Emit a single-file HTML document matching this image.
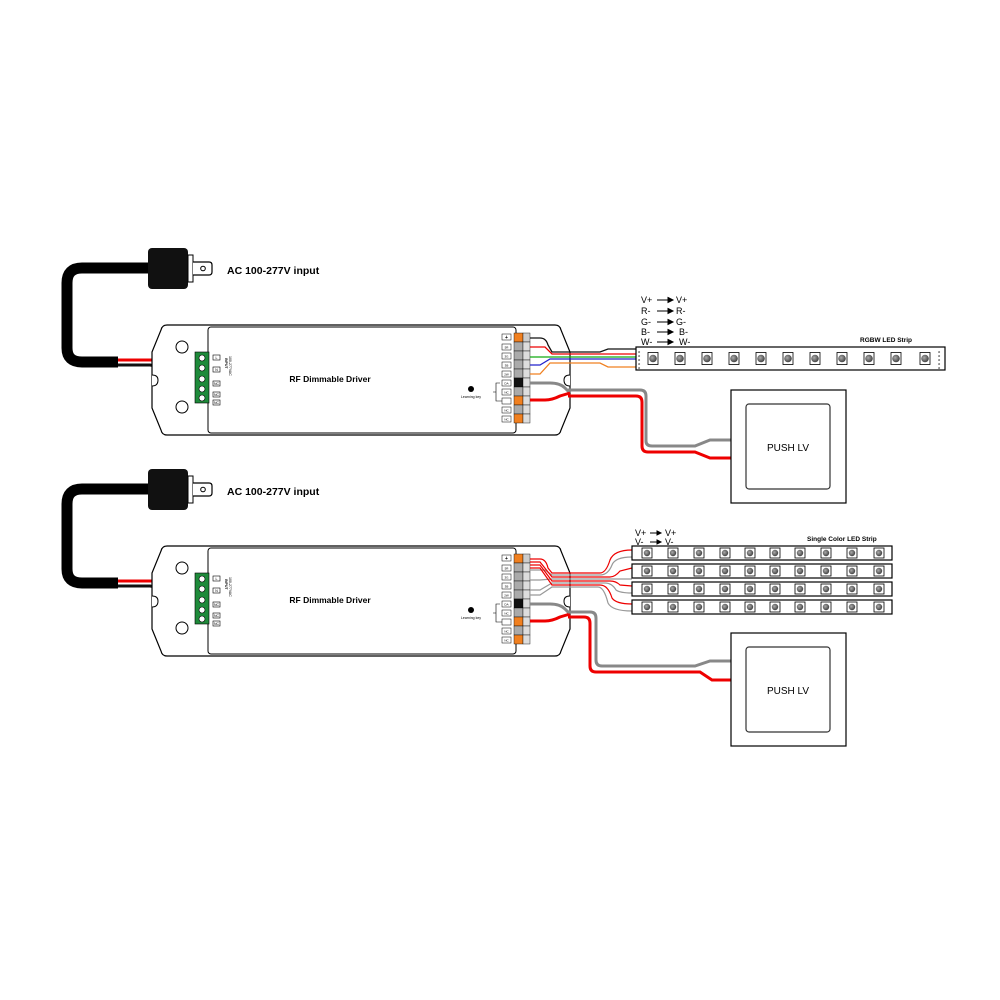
<!DOCTYPE html>
<html><head><meta charset="utf-8"><style>
html,body{margin:0;padding:0;background:#fff}
svg{display:block}
text{font-family:"Liberation Sans",Arial,sans-serif}
</style></head><body>
<svg width="1000" height="1000" viewBox="0 0 1000 1000" xmlns="http://www.w3.org/2000/svg">
<defs>
<g id="drv">
  <path d="M150,268 H82 Q67,268 67,283 V348 Q67,362 82,362 H118" fill="none" stroke="#000" stroke-width="11"/>
  <path d="M118,360 H150 Q170,360 178,357 L196,357" fill="none" stroke="#e00" stroke-width="3"/>
  <path d="M118,365 H150 Q170,368 180,369 L196,369" fill="none" stroke="#111" stroke-width="3"/>
  <rect x="148" y="248" width="40" height="41" rx="4" fill="#111"/>
  <rect x="188" y="255" width="5" height="27" fill="#fff" stroke="#000" stroke-width="1"/>
  <path d="M193,262 H209 Q212,262 212,265 V272 Q212,275 209,275 H193" fill="#fff" stroke="#000" stroke-width="1.2"/>
  <circle cx="203" cy="268.5" r="2.3" fill="none" stroke="#000" stroke-width="1"/>
  <text x="227" y="274" font-size="10.5" font-weight="bold">AC 100-277V input</text>
  <path d="M167,325 H555 Q560,325 561,330 L570,352 V408 L561,430 Q560,435 555,435 H167 Q162,435 161,430 L152,408 V352 L161,330 Q162,325 167,325 Z" fill="#fff" stroke="#000" stroke-width="1.2"/>
  <path d="M152,375 Q158,375 158,380 Q158,386 152,386" fill="#fff" stroke="#000"/>
  <path d="M570,375 Q564,375 564,380 Q564,386 570,386" fill="#fff" stroke="#000"/>
  <circle cx="182" cy="347" r="6" fill="#fff" stroke="#000"/>
  <circle cx="182" cy="407" r="6" fill="#fff" stroke="#000"/>
  <rect x="208" y="327" width="308" height="106" rx="3" fill="#fff" stroke="#000" stroke-width="1"/>
  <text x="330" y="382" font-size="8.5" font-weight="bold" text-anchor="middle">RF Dimmable Driver</text>
  <rect x="195" y="352" width="14" height="51" fill="#1e8a3a" stroke="#000" stroke-width="0.6"/>
  <g fill="#fff" stroke="#000" stroke-width="0.6">
    <circle cx="202" cy="358" r="3"/><circle cx="202" cy="368" r="3"/><circle cx="202" cy="379" r="3"/><circle cx="202" cy="389" r="3"/><circle cx="202" cy="398" r="3"/>
    <rect x="213" y="355" width="7" height="5"/><rect x="213" y="367" width="7" height="5"/><rect x="213" y="381" width="7" height="5"/><rect x="213" y="392" width="7" height="5"/><rect x="213" y="400" width="7" height="5"/>
  </g>
  <g font-size="3.5" text-anchor="middle"><text x="216.5" y="359">L</text><text x="216.5" y="371">N</text><text x="216.5" y="385">NC</text><text x="216.5" y="396">NC</text><text x="216.5" y="404">NC</text></g>
  <text transform="translate(225,358) rotate(90)" font-size="3.5" font-weight="bold">INPUT</text>
  <text transform="translate(229,356) rotate(90)" font-size="3.5">100-277VAC</text>
  <g stroke="#000" stroke-width="0.4">
    <rect x="514" y="333" width="9" height="9" fill="#f08020"/><rect x="523" y="333" width="7" height="9" fill="#ccc"/>
    <rect x="514" y="342" width="9" height="9" fill="#aaa"/><rect x="523" y="342" width="7" height="9" fill="#ddd"/>
    <rect x="514" y="351" width="9" height="9" fill="#aaa"/><rect x="523" y="351" width="7" height="9" fill="#ddd"/>
    <rect x="514" y="360" width="9" height="9" fill="#aaa"/><rect x="523" y="360" width="7" height="9" fill="#ddd"/>
    <rect x="514" y="369" width="9" height="9" fill="#aaa"/><rect x="523" y="369" width="7" height="9" fill="#ddd"/>
    <rect x="514" y="378" width="9" height="9" fill="#111"/><rect x="523" y="378" width="7" height="9" fill="#ddd"/>
    <rect x="514" y="387" width="9" height="9" fill="#aaa"/><rect x="523" y="387" width="7" height="9" fill="#ddd"/>
    <rect x="514" y="396" width="9" height="9" fill="#f08020"/><rect x="523" y="396" width="7" height="9" fill="#ddd"/>
    <rect x="514" y="405" width="9" height="9" fill="#aaa"/><rect x="523" y="405" width="7" height="9" fill="#ddd"/>
    <rect x="514" y="414" width="9" height="9" fill="#f08020"/><rect x="523" y="414" width="7" height="9" fill="#ddd"/>
  </g>
  <g fill="#fff" stroke="#000" stroke-width="0.5">
    <rect x="502" y="334" width="9" height="6"/><rect x="502" y="344" width="9" height="6"/><rect x="502" y="353" width="9" height="6"/><rect x="502" y="362" width="9" height="6"/><rect x="502" y="371" width="9" height="6"/><rect x="502" y="380" width="9" height="6"/><rect x="502" y="389" width="9" height="6"/><rect x="502" y="398" width="9" height="6"/><rect x="502" y="407" width="9" height="6"/><rect x="502" y="416" width="9" height="6"/>
  </g>
  <g font-size="3" text-anchor="middle"><text x="506.5" y="339" font-size="5" font-weight="bold">+</text><text x="506.5" y="348.5">5R</text><text x="506.5" y="357.5">3G</text><text x="506.5" y="366.5">3B</text><text x="506.5" y="375.5">2W</text><text x="506.5" y="384.5">DA</text><text x="506.5" y="393.5">NC</text><text x="506.5" y="411.5">NC</text><text x="506.5" y="420.5">NC</text></g>
  <path d="M500,383 H496 V401 H502 M496,392 H493" fill="none" stroke="#000" stroke-width="0.6"/>
  <circle cx="471" cy="389" r="3" fill="#000"/>
  <text x="471" y="398" font-size="3.5" text-anchor="middle">Learning key</text>
  <path d="M530,383 H550 Q560,383 565,388 L570,393" fill="none" stroke="#888" stroke-width="3"/>
  <path d="M530,400 H545 Q552,400 560,396 L570,393" fill="none" stroke="#e00" stroke-width="3"/>
</g>
<radialGradient id="lg" cx="0.4" cy="0.4" r="0.6"><stop offset="0" stop-color="#aaa"/><stop offset="1" stop-color="#444"/></radialGradient>
<g id="led"><rect x="-5" y="-6" width="10" height="12" fill="#fff" stroke="#000" stroke-width="0.8"/><circle cx="0" cy="0" r="3.8" fill="url(#lg)"/></g>
<g id="sled"><rect x="-5" y="-5" width="10" height="10" fill="#fff" stroke="#000" stroke-width="0.8"/><circle cx="0" cy="0" r="3.2" fill="url(#lg)"/></g>
</defs>

<use href="#drv"/>
<use href="#drv" transform="translate(0,221)"/>

<path d="M568,390 H640 Q646,390 646,396 V441 Q646,446 652,446 H695 L710,440 H733" fill="none" stroke="#888" stroke-width="3"/>
<path d="M568,396 H636 Q642,396 642,402 V446 Q642,452 648,452 H695 L710,458 H733" fill="none" stroke="#e00" stroke-width="3"/>
<path d="M568,612 H590 Q596,612 596,618 V660 Q596,666 602,666 H695 L710,661 H733" fill="none" stroke="#888" stroke-width="3"/>
<path d="M568,617 H584 Q590,617 590,623 V666 Q590,672 596,672 H700 L712,680 H733" fill="none" stroke="#e00" stroke-width="3"/>

<rect x="731" y="390" width="115" height="113" fill="#fff" stroke="#000" stroke-width="1.2"/>
<rect x="746" y="404" width="84" height="85" rx="3" fill="#fff" stroke="#333" stroke-width="1.2"/>
<text x="788" y="451" font-size="10" text-anchor="middle">PUSH LV</text>
<rect x="731" y="633" width="115" height="113" fill="#fff" stroke="#000" stroke-width="1.2"/>
<rect x="746" y="647" width="84" height="85" rx="3" fill="#fff" stroke="#333" stroke-width="1.2"/>
<text x="788" y="694" font-size="10" text-anchor="middle">PUSH LV</text>

<g fill="none" stroke-width="1.3">
<path d="M530,338 H540 Q546,338 548,345 L552,352 H600 L608,349 H636" stroke="#111"/>
<path d="M530,347 H545 L552,354 H636" stroke="#e00"/>
<path d="M530,357 H636" stroke="#1a1"/>
<path d="M530,365 H540 L550,359 H636" stroke="#22c"/>
<path d="M530,374 H540 L550,363 H600 L608,367 H636" stroke="#f08020"/>
</g>
<rect x="636" y="347" width="309" height="23" fill="#fff" stroke="#000" stroke-width="1.2"/>
<g font-size="4" fill="#000"><text x="638" y="353">o</text><text x="638" y="357">o</text><text x="638" y="361">o</text><text x="638" y="365">o</text><text x="638" y="369">o</text>
<text x="938" y="353">o</text><text x="938" y="357">o</text><text x="938" y="361">o</text><text x="938" y="365">o</text><text x="938" y="369">o</text></g>
<use href="#led" x="653" y="358.5"/><use href="#led" x="680" y="358.5"/><use href="#led" x="707" y="358.5"/><use href="#led" x="734" y="358.5"/><use href="#led" x="761" y="358.5"/><use href="#led" x="788" y="358.5"/><use href="#led" x="815" y="358.5"/><use href="#led" x="842" y="358.5"/><use href="#led" x="869" y="358.5"/><use href="#led" x="896" y="358.5"/><use href="#led" x="925" y="358.5"/>
<text x="860" y="342" font-size="6.5" font-weight="bold">RGBW LED Strip</text>
<g font-size="9">
<text x="641" y="303">V+</text><text x="676" y="303">V+</text>
<text x="641" y="314">R-</text><text x="676" y="314">R-</text>
<text x="641" y="325">G-</text><text x="676" y="325">G-</text>
<text x="641" y="335">B-</text><text x="679" y="335">B-</text>
<text x="641" y="345">W-</text><text x="679" y="345">W-</text>
</g>
<g stroke="#000" stroke-width="1" fill="#000">
<path d="M657,300 H668"/><path d="M668,297.5 L673,300 L668,302.5Z"/>
<path d="M657,311 H668"/><path d="M668,308.5 L673,311 L668,313.5Z"/>
<path d="M657,322 H668"/><path d="M668,319.5 L673,322 L668,324.5Z"/>
<path d="M657,332 H668"/><path d="M668,329.5 L673,332 L668,334.5Z"/>
<path d="M657,342 H668"/><path d="M668,339.5 L673,342 L668,344.5Z"/>
</g>

<g fill="none" stroke-width="1.2">
<path d="M530,559 H540 Q546,559 548,568 L552,573 H600 Q606,573 610,560 Q614,550 632,550" stroke="#e00"/>
<path d="M530,570 H545 L552,575 H600 Q608,575 612,565 Q615,557 632,557" stroke="#999"/>
<path d="M530,562 H540 L552,577 H610 Q615,577 620,571 L632,568" stroke="#e00"/>
<path d="M530,580 H540 L552,579 H632" stroke="#999"/>
<path d="M530,565 H540 L552,581 H610 Q616,581 620,585 L632,586" stroke="#e00"/>
<path d="M530,590 H540 L552,583 H605 Q612,583 616,590 Q620,593 632,593" stroke="#999"/>
<path d="M530,568 H540 L552,585 H600 Q608,585 612,598 Q616,604 632,604" stroke="#e00"/>
<path d="M530,595 H540 L552,587 H598 Q604,587 608,603 Q612,611 632,611" stroke="#999"/>
</g>
<g>
<rect x="632" y="546" width="260" height="14" fill="#fff" stroke="#000" stroke-width="1.2"/>
<rect x="632" y="564" width="260" height="14" fill="#fff" stroke="#000" stroke-width="1.2"/>
<rect x="632" y="582" width="260" height="14" fill="#fff" stroke="#000" stroke-width="1.2"/>
<rect x="632" y="600" width="260" height="14" fill="#fff" stroke="#000" stroke-width="1.2"/>
</g>
<g id="srow">
<use href="#sled" x="647" y="553"/><use href="#sled" x="673" y="553"/><use href="#sled" x="699" y="553"/><use href="#sled" x="725" y="553"/><use href="#sled" x="750" y="553"/><use href="#sled" x="775" y="553"/><use href="#sled" x="800" y="553"/><use href="#sled" x="826" y="553"/><use href="#sled" x="852" y="553"/><use href="#sled" x="879" y="553"/>
</g>
<use href="#srow" y="18"/><use href="#srow" y="36"/><use href="#srow" y="54"/>
<g font-size="7"><text x="807" y="541" font-weight="bold" font-size="6.5">Single Color LED Strip</text>
<text x="635" y="536" font-size="9">V+</text><text x="665" y="536" font-size="9">V+</text>
<text x="635" y="545" font-size="9">V-</text><text x="665" y="545" font-size="9">V-</text></g>
<g stroke="#000" fill="#000">
<path d="M650,533 H657"/><path d="M657,531 L661,533 L657,535Z"/>
<path d="M650,542 H657"/><path d="M657,540 L661,542 L657,544Z"/>
</g>
</svg>
</body></html>
